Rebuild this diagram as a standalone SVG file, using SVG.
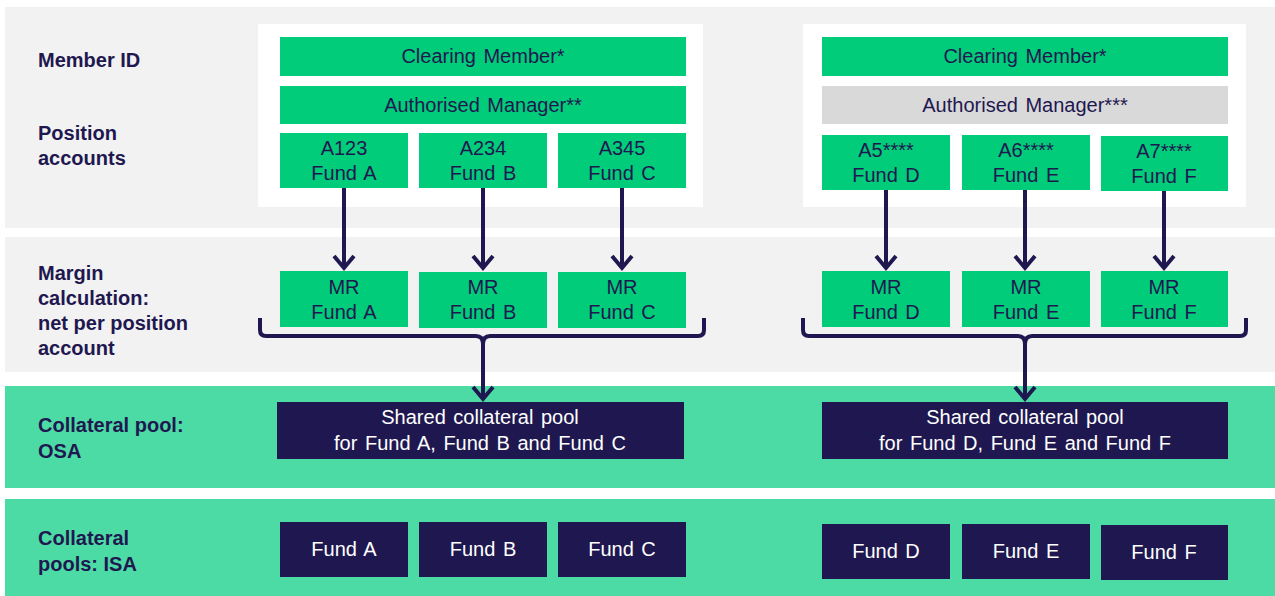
<svg xmlns="http://www.w3.org/2000/svg" width="1275" height="596" viewBox="0 0 1275 596">
<style>
.band{fill:#f2f2f2}
.bandg{fill:#4ddba5}
.panel{fill:#ffffff}
.g{fill:#00cc7a}
.gray{fill:#d9d9d9}
.d{fill:#1f1850}
text{font-family:"Liberation Sans",Arial,sans-serif}
.lbl{font-size:20px;font-weight:bold;fill:#1f1850}
.t{font-size:20px;fill:#1f1850;text-anchor:middle;word-spacing:2px}
.tw{font-size:20px;fill:#ffffff;text-anchor:middle;word-spacing:2px}
.conn{fill:none;stroke:#1f1850;stroke-width:4}
</style>
<defs>
<marker id="ah" markerUnits="userSpaceOnUse" viewBox="-14 -13 18 26" refX="0" refY="0" markerWidth="18" markerHeight="26" orient="auto">
<path d="M-12,-10 L0,0 L-12,10" fill="none" stroke="#1f1850" stroke-width="4"/>
</marker>
</defs>
<rect width="1275" height="596" fill="#ffffff"/>
<g id="bands">
<rect class="band" x="5" y="7" width="1270" height="221"/>
<rect class="band" x="5" y="237" width="1270" height="135"/>
<rect class="bandg" x="5" y="386" width="1270" height="102"/>
<rect class="bandg" x="5" y="499" width="1270" height="97"/>
<rect class="panel" x="258" y="24" width="445" height="183"/>
<rect class="panel" x="803" y="24" width="443" height="183"/>
</g>
<g id="labels">
<text class="lbl" x="38" y="67">Member ID</text>
<text class="lbl" x="38" y="140">Position</text>
<text class="lbl" x="38" y="165">accounts</text>
<text class="lbl" x="38" y="280">Margin</text>
<text class="lbl" x="38" y="305">calculation:</text>
<text class="lbl" x="38" y="330">net per position</text>
<text class="lbl" x="38" y="355">account</text>
<text class="lbl" x="38" y="432">Collateral  pool:</text>
<text class="lbl" x="38" y="458">OSA</text>
<text class="lbl" x="38" y="545">Collateral</text>
<text class="lbl" x="38" y="571">pools: ISA</text>
</g>
<g id="cm-left"><rect class="g" x="280" y="37" width="406" height="39"/><text class="t" x="483" y="63">Clearing Member*</text></g>
<g id="am-left"><rect class="g" x="280" y="86" width="406" height="38"/><text class="t" x="483" y="112">Authorised Manager**</text></g>
<g id="pa-a"><rect class="g" x="280" y="133" width="128" height="55"/><text class="t" x="344" y="155">A123</text><text class="t" x="344" y="180">Fund A</text></g>
<g id="pa-b"><rect class="g" x="419" y="133" width="128" height="55"/><text class="t" x="483" y="155">A234</text><text class="t" x="483" y="180">Fund B</text></g>
<g id="pa-c"><rect class="g" x="558" y="133" width="128" height="55"/><text class="t" x="622" y="155">A345</text><text class="t" x="622" y="180">Fund C</text></g>
<g id="cm-right"><rect class="g" x="822" y="37" width="406" height="39"/><text class="t" x="1025" y="63">Clearing Member*</text></g>
<g id="am-right"><rect class="gray" x="822" y="86" width="406" height="38"/><text class="t" x="1025" y="112">Authorised Manager***</text></g>
<g id="pa-d"><rect class="g" x="822" y="135" width="128" height="55"/><text class="t" x="886" y="157">A5****</text><text class="t" x="886" y="182">Fund D</text></g>
<g id="pa-e"><rect class="g" x="962" y="135" width="128" height="55"/><text class="t" x="1026" y="157">A6****</text><text class="t" x="1026" y="182">Fund E</text></g>
<g id="pa-f"><rect class="g" x="1101" y="136" width="127" height="55"/><text class="t" x="1164" y="158">A7****</text><text class="t" x="1164" y="183">Fund F</text></g>
<g id="mr-a"><rect class="g" x="280" y="271" width="128" height="56"/><text class="t" x="344" y="294">MR</text><text class="t" x="344" y="319">Fund A</text></g>
<g id="mr-b"><rect class="g" x="419" y="272" width="128" height="56"/><text class="t" x="483" y="294">MR</text><text class="t" x="483" y="319">Fund B</text></g>
<g id="mr-c"><rect class="g" x="558" y="272" width="128" height="56"/><text class="t" x="622" y="294">MR</text><text class="t" x="622" y="319">Fund C</text></g>
<g id="mr-d"><rect class="g" x="822" y="271" width="128" height="56"/><text class="t" x="886" y="294">MR</text><text class="t" x="886" y="319">Fund D</text></g>
<g id="mr-e"><rect class="g" x="962" y="271" width="128" height="56"/><text class="t" x="1026" y="294">MR</text><text class="t" x="1026" y="319">Fund E</text></g>
<g id="mr-f"><rect class="g" x="1101" y="271" width="127" height="56"/><text class="t" x="1164" y="294">MR</text><text class="t" x="1164" y="319">Fund F</text></g>
<g id="osa-left"><rect class="d" x="277" y="402" width="407" height="57"/><text class="tw" x="480" y="424">Shared collateral pool</text><text class="tw" x="480" y="450">for Fund A, Fund B and Fund C</text></g>
<g id="osa-right"><rect class="d" x="822" y="402" width="406" height="57"/><text class="tw" x="1025" y="424">Shared collateral pool</text><text class="tw" x="1025" y="450">for Fund D, Fund E and Fund F</text></g>
<g id="isa-a"><rect class="d" x="280" y="522" width="128" height="55"/><text class="tw" x="344" y="556">Fund A</text></g>
<g id="isa-b"><rect class="d" x="419" y="522" width="128" height="55"/><text class="tw" x="483" y="556">Fund B</text></g>
<g id="isa-c"><rect class="d" x="558" y="522" width="128" height="55"/><text class="tw" x="622" y="556">Fund C</text></g>
<g id="isa-d"><rect class="d" x="822" y="524" width="128" height="55"/><text class="tw" x="886" y="558">Fund D</text></g>
<g id="isa-e"><rect class="d" x="962" y="524" width="128" height="55"/><text class="tw" x="1026" y="558">Fund E</text></g>
<g id="isa-f"><rect class="d" x="1101" y="525" width="127" height="55"/><text class="tw" x="1164" y="559">Fund F</text></g>
<g id="connectors">
<path class="conn" marker-end="url(#ah)" d="M344,188 V268"/>
<path class="conn" marker-end="url(#ah)" d="M483,188 V268"/>
<path class="conn" marker-end="url(#ah)" d="M622,188 V268"/>
<path class="conn" marker-end="url(#ah)" d="M886,190 V268"/>
<path class="conn" marker-end="url(#ah)" d="M1025,190 V268"/>
<path class="conn" marker-end="url(#ah)" d="M1164,191 V268"/>
<path class="conn" d="M260,318 V330 Q260,336 266,336 H476 Q483,336 483,344 Q483,336 490,336 H698 Q704,336 704,330 V318"/>
<path class="conn" marker-end="url(#ah)" d="M483,344 V399"/>
<path class="conn" d="M803,318 V330 Q803,336 809,336 H1018 Q1025,336 1025,344 Q1025,336 1032,336 H1240 Q1246,336 1246,330 V318"/>
<path class="conn" marker-end="url(#ah)" d="M1025,344 V399"/>
</g>
</svg>
